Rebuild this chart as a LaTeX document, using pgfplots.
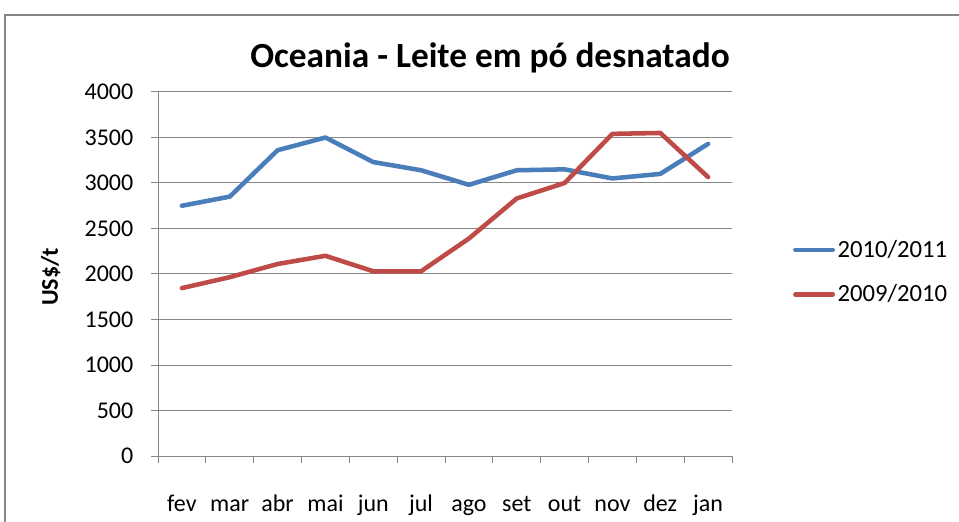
\documentclass[border=0pt]{standalone}
\usepackage{pgfplots}
\pgfplotsset{compat=1.18}
\usepackage{fontspec}
\setmainfont{Carlito}
\definecolor{blueS}{HTML}{4A7EBB}
\definecolor{redS}{HTML}{BE4B48}
\definecolor{gridc}{HTML}{868686}
\begin{document}
\begin{tikzpicture}
\useasboundingbox (0,0) rectangle (719.25pt,390.75pt);
\fill[white] (0,0) rectangle (719.25pt,390.75pt);
\draw[color=gridc, line width=1.5pt] (3.75pt,-5pt) -- (3.75pt,379.5pt) -- (725pt,379.5pt);
\begin{axis}[
  scale only axis,
  width=430.5pt, height=273pt,
  at={(118.5pt,48.75pt)}, anchor=south west,
  xmin=-0.5, xmax=11.5, ymin=0, ymax=4000,
  ytick={0,500,...,4000},
  xtick={-0.5,0.5,...,11.5},
  x tick label as interval,
  xticklabels={fev,mar,abr,mai,jun,jul,ago,set,out,nov,dez,jan},
  axis x line*=bottom, axis y line*=left,
  axis line style={color=gridc, line width=0.75pt, -},
  ymajorgrids, grid style={color=gridc, line width=0.75pt},
  tick align=outside,
  major tick length=5pt,
  tick style={color=gridc, line width=0.75pt},
  /pgf/number format/assume math mode=true,
  /pgf/number format/1000 sep={},
  tick label style={font=\fontsize{18}{21}\selectfont, text=black},
  yticklabel style={xshift=-10pt},
  xticklabel style={anchor=base, yshift=-36.75pt},
  legend style={at={(1.106,0.505)}, anchor=west, draw=none, fill=none,
    font=\fontsize{18.5}{21}\selectfont, row sep=15pt, inner sep=0pt},
  legend cell align=left,
  legend image code/.code={\draw[#1, line width=3.4pt] (0cm,0cm) -- (28pt,0cm);},
]
\addplot[color=blueS, line width=3.4pt, line join=round, line cap=round] coordinates {
(0,2750) (1,2850) (2,3360) (3,3500) (4,3230) (5,3140) (6,2980) (7,3140) (8,3150) (9,3050) (10,3100) (11,3430)};
\addlegendentry{2010/2011}
\addplot[color=redS, line width=3.4pt, line join=round, line cap=round] coordinates {
(0,1845) (1,1965) (2,2110) (3,2200) (4,2030) (5,2030) (6,2390) (7,2830) (8,3000) (9,3540) (10,3550) (11,3065)};
\addlegendentry{2009/2010}
\end{axis}
\node[font=\bfseries\fontsize{26.5}{30}\selectfont] at (367.5pt,347.25pt) {Oceania - Leite em pó desnatado};
\node[font=\bfseries\fontsize{18}{21}\selectfont, rotate=90] at (38pt,183pt) {US\$/t};
\end{tikzpicture}
\end{document}
